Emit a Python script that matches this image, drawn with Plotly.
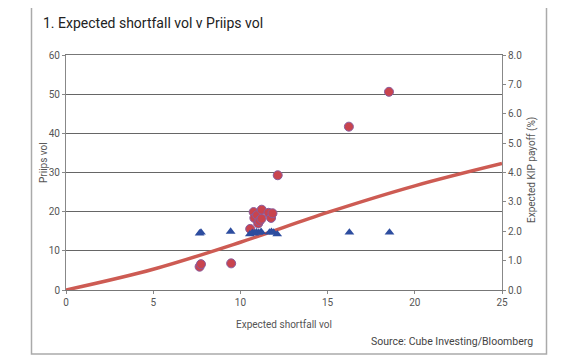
import plotly.graph_objects as go

# Data
priips_es = [7.66, 7.74, 9.47, 10.56, 10.76, 10.80, 10.96, 11.02, 11.09, 11.22, 11.21,
             11.61, 11.76, 11.84, 12.14, 16.22, 18.52]
priips_vol = [5.95, 6.6, 6.8, 15.6, 19.9, 18.4, 19.1, 17.0, 17.6, 20.5, 18.2,
              19.7, 18.4, 19.6, 29.3, 41.7, 50.6]

kip_es = [7.66, 7.74, 9.44, 10.54, 10.69, 10.80, 10.92, 11.05, 11.19, 11.67, 11.78,
          11.90, 12.11, 16.25, 18.55]
kip_payoff = [1.93, 1.96, 1.99, 1.90, 1.95, 1.93, 1.97, 1.95, 1.98, 1.96, 1.98,
              1.96, 1.90, 1.96, 1.96]

curve_x = [0, 5, 10, 15, 20, 25]
curve_y = [0, 5.3, 12.2, 19.8, 26.6, 32.3]

x_ticks = [0, 5, 10, 15, 20, 25]
left_ticks = [0, 10, 20, 30, 40, 50, 60]
right_ticks = [0, 1, 2, 3, 4, 5, 6, 7, 8]

FONT = "Roboto"
GREY = "#555555"

fig = go.Figure()
fig.add_trace(go.Scatter(x=curve_x, y=curve_y, mode="lines",
                         line=dict(color="#cd5b53", width=3.5, shape="spline"),
                         yaxis="y", showlegend=False, hoverinfo="skip"))
fig.add_trace(go.Scatter(x=kip_es, y=kip_payoff, mode="markers",
                         marker=dict(symbol="triangle-up", size=8.5, color="#2d4d9f"),
                         yaxis="y2", showlegend=False))
fig.add_trace(go.Scatter(x=priips_es, y=priips_vol, mode="markers",
                         marker=dict(symbol="circle", size=9, color="#c9444e",
                                     line=dict(color="#8a5d9e", width=1)),
                         yaxis="y", showlegend=False))

# layout geometry (page pixels); the page body has an 8px margin
OFF = 8
W, H = 580 - OFF, 358 - OFF
L, R, T, B = 66, 502, 55, 290
pw, ph = R - L, B - T
def px(x):
    return (x - L) / pw
def py(y):
    return (B - y) / ph

fig.update_layout(
    width=W, height=H,
    margin=dict(l=L - OFF, r=580 - R, t=T - OFF, b=358 - B, pad=0),
    paper_bgcolor="white", plot_bgcolor="white",
    font=dict(family=FONT, size=10, color=GREY),
    title=dict(text="1. Expected shortfall vol v Priips vol", xref="container", yref="container",
               x=(43 - OFF) / W, y=1 - (23 - OFF) / H, xanchor="left", yanchor="middle",
               font=dict(family=FONT, size=14, color="#222222")),
    xaxis=dict(range=[0, 25], tickvals=x_ticks, showgrid=False, zeroline=False,
               showline=True, linecolor="#777777", linewidth=1, mirror=True,
               ticks="outside", ticklen=3, tickcolor="#888888",
               tickfont=dict(size=10, color=GREY)),
    yaxis=dict(range=[0, 60], tickvals=left_ticks, showgrid=True, gridcolor="#666666",
               gridwidth=1, zeroline=False, showline=True, linecolor="#888888",
               ticks="outside", ticklen=3, tickcolor="#888888",
               tickfont=dict(size=10, color=GREY)),
    yaxis2=dict(range=[0, 8], tickvals=right_ticks, tickformat=".1f", overlaying="y",
                side="right", showgrid=False, zeroline=False, showline=True,
                linecolor="#888888", ticks="outside", ticklen=3, tickcolor="#888888",
                tickfont=dict(size=10, color=GREY)),
    shapes=[dict(type="rect", xref="paper", yref="paper",
                 x0=px(31.5), x1=px(546.5), y0=py(354), y1=py(2.5),
                 line=dict(color="#aaaaaa", width=1.5), layer="below")],
    annotations=[
        dict(text="Expected shortfall vol", xref="paper", yref="paper", x=0.5, y=py(324),
             showarrow=False, xanchor="center", yanchor="middle",
             font=dict(size=10, color=GREY)),
        dict(text="Priips vol", xref="paper", yref="paper", x=px(43), y=py(163),
             showarrow=False, textangle=-90, xanchor="center", yanchor="middle",
             font=dict(size=10, color=GREY)),
        dict(text="Expected KIP payoff (%)", xref="paper", yref="paper", x=px(532), y=py(170),
             showarrow=False, textangle=-90, xanchor="center", yanchor="middle",
             font=dict(size=10, color=GREY)),
        dict(text="Source: Cube Investing/Bloomberg", xref="paper", yref="paper",
             x=px(535), y=py(342), showarrow=False, xanchor="right", yanchor="middle",
             font=dict(size=10.5, color="#444444")),
    ],
)

fig.write_html("out.html")
